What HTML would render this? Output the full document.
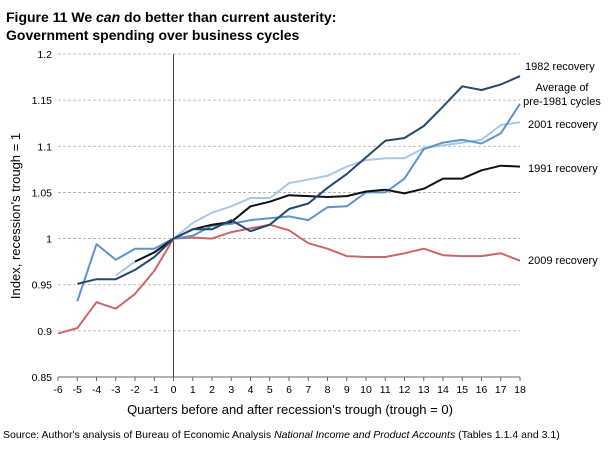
<!DOCTYPE html>
<html><head><meta charset="utf-8"><style>
body{margin:0;background:#fff;width:608px;height:447px;overflow:hidden;font-family:"Liberation Sans",sans-serif}
text{font-family:"Liberation Sans",sans-serif}
</style></head><body>
<svg id="chart" width="608" height="447" xmlns="http://www.w3.org/2000/svg">
<text x="6" y="22" font-size="14" font-weight="bold">Figure 11  We <tspan font-style="italic">can</tspan> do better than current austerity:</text>
<text x="6" y="40" font-size="14" font-weight="bold">Government spending over business cycles</text>
<g id="grid"></g><g id="axes"></g><g id="series"></g>
<text transform="translate(20,216) rotate(-90)" text-anchor="middle" font-size="13">Index, recession's trough = 1</text>
<text x="290" y="414" text-anchor="middle" font-size="13">Quarters before and after recession's trough (trough = 0)</text>
<text x="3" y="438" font-size="10.5">Source: Author's analysis of Bureau of Economic Analysis <tspan font-style="italic">National Income and Product Accounts</tspan> (Tables 1.1.4 and 3.1)</text>
<g font-size="11">
<text x="525" y="70">1982 recovery</text>
<text x="562" y="91" text-anchor="middle">Average of</text>
<text x="562" y="105" text-anchor="middle">pre-1981 cycles</text>
<text x="528" y="128">2001 recovery</text>
<text x="528" y="172">1991 recovery</text>
<text x="528" y="264">2009 recovery</text>
</g>
</svg>
<script>
const quarters=[-6,-5,-4,-3,-2,-1,0,1,2,3,4,5,6,7,8,9,10,11,12,13,14,15,16,17,18];
const yTicks=[0.85,0.9,0.95,1,1.05,1.1,1.15,1.2];
const s1982=[null,0.951,0.956,0.956,0.966,0.98,1,1.01,1.01,1.02,1.008,1.015,1.032,1.038,1.055,1.07,1.088,1.106,1.109,1.122,1.143,1.165,1.161,1.167,1.176];
const sAvg=[null,0.932,0.994,0.977,0.989,0.989,1,1.003,1.014,1.016,1.02,1.022,1.024,1.02,1.034,1.035,1.05,1.05,1.065,1.097,1.104,1.107,1.103,1.114,1.146];
const s2001=[null,null,null,0.96,0.975,0.985,1,1.017,1.028,1.035,1.044,1.044,1.06,1.064,1.068,1.078,1.085,1.087,1.087,1.098,1.101,1.104,1.107,1.123,1.126];
const s1991=[null,null,null,null,0.975,0.985,1,1.01,1.015,1.018,1.035,1.04,1.047,1.046,1.045,1.046,1.051,1.053,1.049,1.054,1.065,1.065,1.074,1.079,1.078];
const s2009=[0.897,0.903,0.931,0.924,0.94,0.965,1,1.001,1.0,1.007,1.011,1.015,1.009,0.995,0.989,0.981,0.98,0.98,0.984,0.989,0.982,0.981,0.981,0.984,0.976];
const NS="http://www.w3.org/2000/svg";
const X0=58,X1=520,Y0=377,Y1=54;
const x=q=>X0+(q+6)/24*(X1-X0);
const y=v=>Y0-(v-0.85)/0.35*(Y0-Y1);
function mk(tag,attrs,parent){const e=document.createElementNS(NS,tag);for(const k in attrs)e.setAttribute(k,attrs[k]);document.getElementById(parent).appendChild(e);return e;}
yTicks.forEach(v=>{
  if(v>0.85){const g=mk('line',{x1:X0,x2:X1,y1:y(v),y2:y(v),stroke:'#aaa','stroke-dasharray':'3,2','stroke-width':0.8},'grid');
  
  }
  const t=mk('text',{x:X0-6,y:y(v)+4,'text-anchor':'end','font-size':10.5},'axes');
  t.textContent=String(v);
  
  
});
const ax=mk('line',{x1:X0,x2:X1,y1:Y0,y2:Y0,stroke:'#666'},'axes');


const zl=mk('line',{x1:x(0),x2:x(0),y1:Y1,y2:Y0,stroke:'#444'},'axes');


quarters.forEach(q=>{
  const tk=mk('line',{x1:x(q),x2:x(q),y1:Y0,y2:Y0+4,stroke:'#666'},'axes');
  
  
  const t=mk('text',{x:x(q),y:Y0+16,'text-anchor':'middle','font-size':10.5},'axes');
  t.textContent=String(q);
  
  
});
function line(data,color,name){
  let d='';data.forEach((v,i)=>{if(v===null)return;d+=(d?'L':'M')+x(quarters[i]).toFixed(1)+','+y(v).toFixed(1);});
  const p=mk('path',{d:d,fill:'none',stroke:color,'stroke-width':2,'stroke-linejoin':'round'},'series');
  
  
}
line(s2009,'#cc6666','line-2009');
line(s2001,'#a9c8e6','line-2001');
line(sAvg,'#5b95cc','line-pre-1981-average');
line(s1991,'#111111','line-1991');
line(s1982,'#24486e','line-1982');
</script>
</body></html>
